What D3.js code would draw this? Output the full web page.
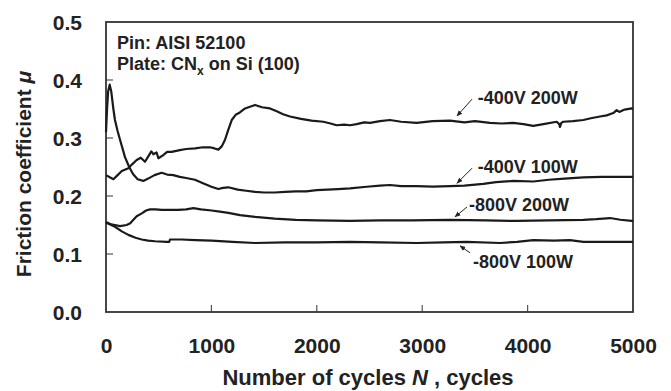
<!DOCTYPE html>
<html><head><meta charset="utf-8">
<script src="https://cdn.jsdelivr.net/npm/d3@7"></script>
<style>
body{margin:0;background:#fff;}
text{font-family:"Liberation Sans",Arial,Helvetica,sans-serif;font-weight:bold;fill:#222;}
</style></head>
<body><svg id="c" width="671" height="391"></svg>
<script>
const xTicks = [0,1000,2000,3000,4000,5000];
const yTicks = [0.0,0.1,0.2,0.3,0.4,0.5];

const s1Cycles = [0,40,70,110,150,212,250,291,330,370,400,430,449,480,497,540,580,623,700,760,845,920,987,1030,1066,1100,1129,1160,1193,1230,1270,1319,1366,1414,1480,1556,1620,1680,1746,1850,1950,2062,2130,2188,2260,2315,2378,2450,2505,2600,2694,2800,2947,3100,3264,3400,3500,3643,3750,3862,3960,4054,4150,4276,4300,4307,4320,4339,4430,4529,4600,4687,4750,4813,4845,4870,4920,4988,5000];
const s1Mu = [0.236,0.232,0.229,0.236,0.243,0.248,0.255,0.262,0.266,0.259,0.268,0.277,0.272,0.275,0.265,0.270,0.276,0.276,0.279,0.281,0.282,0.284,0.284,0.282,0.280,0.286,0.297,0.314,0.331,0.340,0.344,0.351,0.354,0.357,0.353,0.351,0.346,0.341,0.337,0.333,0.330,0.328,0.325,0.322,0.323,0.322,0.324,0.327,0.326,0.329,0.331,0.328,0.326,0.329,0.330,0.327,0.329,0.326,0.325,0.326,0.324,0.321,0.324,0.328,0.324,0.319,0.326,0.328,0.329,0.331,0.334,0.337,0.339,0.343,0.348,0.345,0.349,0.351,0.350];

const s2Cycles = [0,10,20,35,50,70,85,110,133,160,180,220,256,300,354,400,460,528,580,639,700,760,844,920,1000,1066,1110,1161,1250,1330,1414,1500,1600,1700,1800,1900,2000,2100,2200,2315,2473,2600,2694,2800,2947,3100,3264,3400,3580,3700,3865,4054,4200,4350,4529,4700,4850,5000];
const s2Mu = [0.310,0.350,0.380,0.392,0.380,0.350,0.331,0.312,0.297,0.280,0.267,0.250,0.238,0.229,0.226,0.230,0.236,0.240,0.237,0.236,0.233,0.231,0.228,0.222,0.216,0.212,0.214,0.215,0.211,0.209,0.207,0.206,0.206,0.207,0.208,0.208,0.210,0.211,0.212,0.213,0.216,0.218,0.219,0.217,0.217,0.216,0.217,0.218,0.221,0.224,0.226,0.225,0.228,0.230,0.232,0.233,0.233,0.233];

const s3Cycles = [0,50,85,133,196,230,260,291,340,380,417,470,528,600,686,760,829,900,1002,1080,1161,1271,1414,1600,1800,2000,2315,2600,2900,3264,3600,3896,4200,4529,4650,4782,4880,4988,5000];
const s3Mu = [0.155,0.151,0.150,0.148,0.150,0.153,0.159,0.165,0.170,0.175,0.177,0.177,0.176,0.176,0.176,0.177,0.179,0.177,0.175,0.173,0.171,0.167,0.164,0.161,0.159,0.158,0.157,0.158,0.158,0.159,0.158,0.157,0.158,0.159,0.160,0.162,0.159,0.157,0.157];

const s4Cycles = [0,40,85,150,212,280,339,400,465,576,600,607,718,850,1002,1200,1414,1700,2000,2315,2600,2947,3200,3422,3738,3900,4054,4250,4402,4529,4750,4988,5000];
const s4Mu = [0.154,0.151,0.147,0.139,0.133,0.128,0.125,0.123,0.122,0.121,0.121,0.125,0.125,0.124,0.123,0.121,0.119,0.120,0.120,0.121,0.120,0.119,0.120,0.121,0.119,0.121,0.124,0.123,0.124,0.121,0.121,0.121,0.121];

const seriesNames = ["-400V 200W","-400V 100W","-800V 200W","-800V 100W"];
// label anchor (cycles, mu baseline) and arrow from/to (cycles, mu)
const labelPos = [[3527,0.358],[3527,0.239],[3444,0.175],[3482,0.0767]];
const arrowFrom = [[3473,0.367],[3473,0.248],[3425,0.181],[3454,0.102]];
const arrowTo = [[3330,0.338],[3330,0.222],[3311,0.164],[3359,0.114]];

const svg = d3.select("#c");
const L=106,R=633,T=22,B=312;
const x = d3.scaleLinear().domain([0,5000]).range([L,R]);
const y = d3.scaleLinear().domain([0,0.5]).range([B,T]);

svg.append("defs").append("marker").attr("id","ah").attr("viewBox","0 0 10 10")
  .attr("refX",9).attr("refY",5).attr("markerWidth",6).attr("markerHeight",6)
  .attr("orient","auto").append("path").attr("d","M0,1L10,5L0,9Z").attr("fill","#222");

// axes
const xa = svg.append("g").attr("transform",`translate(0,${B})`)
  .call(d3.axisBottom(x).tickValues(xTicks).tickSize(0).tickPadding(0).tickFormat(d3.format("d")));
xa.select(".domain").remove();
xa.selectAll("text").attr("dy",null).attr("y",41).style("font-size","21px").attr("fill","#222");
const ya = svg.append("g").attr("transform",`translate(${L},0)`)
  .call(d3.axisLeft(y).tickValues(yTicks).tickSize(0).tickFormat(d3.format(".1f")));
ya.select(".domain").remove();
ya.selectAll("text").attr("x",-24).attr("dy","0.36em").style("font-size","21px").attr("fill","#222");

// inner ticks
svg.append("g").selectAll("line").data(xTicks.slice(1,-1)).join("line")
  .attr("x1",d=>x(d)).attr("x2",d=>x(d)).attr("y1",B).attr("y2",B-7)
  .attr("stroke","#555").attr("stroke-width",1.2);
svg.append("g").selectAll("line").data(yTicks.slice(1,-1)).join("line")
  .attr("x1",L).attr("x2",L+7).attr("y1",d=>y(d)).attr("y2",d=>y(d))
  .attr("stroke","#555").attr("stroke-width",1.2);

// frame
svg.append("rect").attr("x",L).attr("y",T).attr("width",R-L).attr("height",B-T)
  .attr("fill","none").attr("stroke","#333").attr("stroke-width",1.8);

// series
const line = d3.line().x(d=>x(d[0])).y(d=>y(d[1]));
const all = [[s1Cycles,s1Mu],[s2Cycles,s2Mu],[s3Cycles,s3Mu],[s4Cycles,s4Mu]];
all.forEach(([c,m])=>{
  svg.append("path").attr("d",line(c.map((v,i)=>[v,m[i]])))
    .attr("fill","none").attr("stroke","#1a1a1a").attr("stroke-width",2.2).attr("stroke-linejoin","round");
});

// labels + arrows
seriesNames.forEach((n,i)=>{
  svg.append("text").attr("x",x(labelPos[i][0])).attr("y",y(labelPos[i][1]))
    .style("font-size","18px").text(n);
  svg.append("line").attr("x1",x(arrowFrom[i][0])).attr("y1",y(arrowFrom[i][1]))
    .attr("x2",x(arrowTo[i][0])).attr("y2",y(arrowTo[i][1]))
    .attr("stroke","#222").attr("stroke-width",1).attr("marker-end","url(#ah)");
});

// annotation
svg.append("text").attr("x",117).attr("y",49).style("font-size","18px").text("Pin: AISI 52100");
const p = svg.append("text").attr("x",117).attr("y",70).style("font-size","18px");
p.append("tspan").text("Plate: CN");
p.append("tspan").attr("dy",5).style("font-size","12px").text("x");
p.append("tspan").attr("dy",-5).text(" on Si (100)");

// axis titles
const xt = svg.append("text").attr("x",368).attr("y",385).attr("text-anchor","middle").style("font-size","22px");
xt.append("tspan").text("Number of cycles ");
xt.append("tspan").style("font-style","italic").text("N");
xt.append("tspan").text(" , cycles");
const yt = svg.append("text").attr("transform","translate(31,174) rotate(-90)").attr("text-anchor","middle").style("font-size","21px");
yt.append("tspan").text("Friction coefficient ");
yt.append("tspan").style("font-style","italic").text("μ");
</script></body></html>
